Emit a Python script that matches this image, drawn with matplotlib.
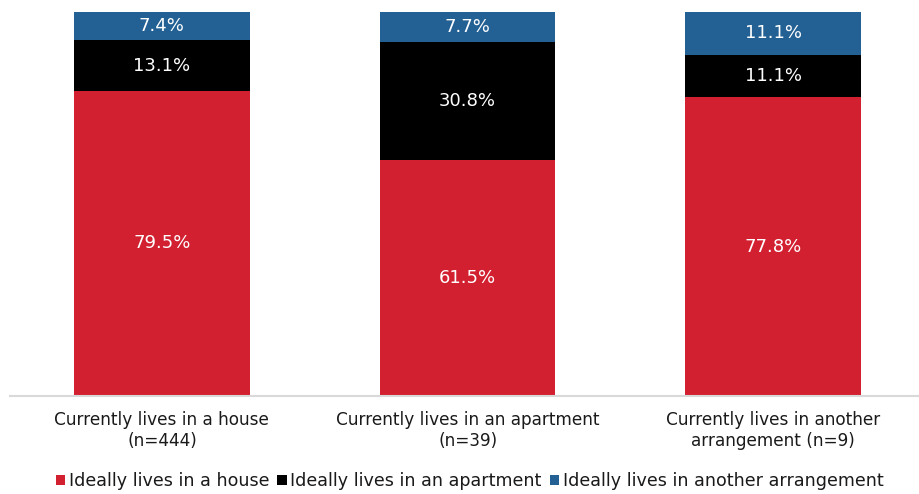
import matplotlib.pyplot as plt
import numpy as np

plt.rcParams["font.family"] = "DejaVu Sans"

# ── Data ────────────────────────────────────────────────────────────────────
categories = [
    "Currently lives in a house\n(n=444)",
    "Currently lives in an apartment\n(n=39)",
    "Currently lives in another\narrangement (n=9)",
]
series_names = [
    "Ideally lives in a house",
    "Ideally lives in an apartment",
    "Ideally lives in another arrangement",
]
ideal_house = [79.5, 61.5, 77.8]
ideal_apartment = [13.1, 30.8, 11.1]
ideal_other = [7.4, 7.7, 11.1]

colors = ["#d22030", "#000000", "#236093"]

fig = plt.figure(figsize=(9.2, 4.94), dpi=100)
ax = fig.add_axes([10 / 920, 98 / 494, 910 / 920, 384 / 494])

x = np.arange(len(categories))
width = 0.575
bottom = np.zeros(len(categories))
for vals, name, col in zip([ideal_house, ideal_apartment, ideal_other],
                           series_names, colors):
    vals = np.array(vals)
    bars = ax.bar(x, vals, width, bottom=bottom, color=col, label=name,
                  edgecolor="none")
    for b, v, b0 in zip(bars, vals, bottom):
        ax.text(b.get_x() + b.get_width() / 2, b0 + v / 2, f"{v:.1f}%",
                ha="center", va="center", color="white", fontsize=13)
    bottom += vals

ax.set_xlim(-0.497, 2.48)
ax.set_ylim(0, 100)
ax.set_yticks([])
ax.set_xticks(x)
ax.set_xticklabels(categories, fontsize=12.2, color="#1a1a1a", linespacing=1.2)
ax.tick_params(axis="x", length=0, pad=11)
for side in ["top", "right", "left"]:
    ax.spines[side].set_visible(False)
ax.spines["bottom"].set_color("#d9d9d9")
ax.spines["bottom"].set_linewidth(1.5)

ax.legend(loc="center", bbox_to_anchor=(0.505, -0.222), ncol=3,
          frameon=False, fontsize=12.6, handlelength=0.55, handleheight=0.55,
          handletextpad=0.2, columnspacing=0.45, labelcolor="#1a1a1a")

fig.savefig("out.png", dpi=100)
